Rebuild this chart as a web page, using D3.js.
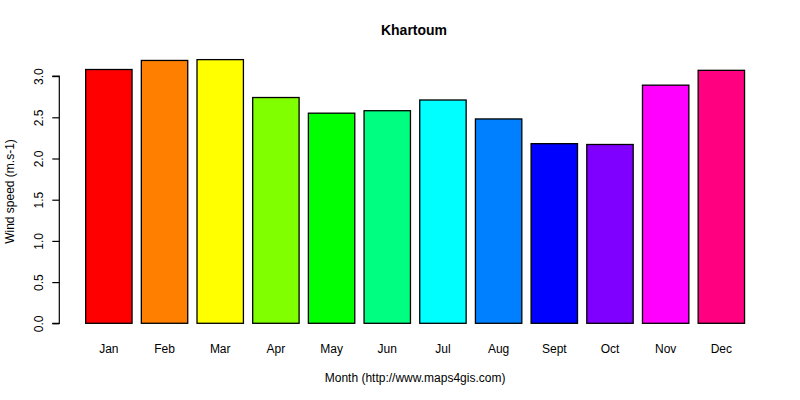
<!DOCTYPE html>
<html>
<head>
<meta charset="utf-8">
<script src="https://cdn.jsdelivr.net/npm/d3@7"></script>
<style>
  body { margin: 0; background: #fff; }
  text { font-family: "Liberation Sans", Arial, sans-serif; fill: #000; }
</style>
</head>
<body>
<div id="chart-container"></div>
<script>
// data
const months = ["Jan", "Feb", "Mar", "Apr", "May", "Jun", "Jul", "Aug", "Sept", "Oct", "Nov", "Dec"];
const windSpeed = [3.08, 3.19, 3.20, 2.74, 2.55, 2.58, 2.71, 2.48, 2.18, 2.17, 2.89, 3.07];
const barColors = ["#FF0000", "#FF8000", "#FFFF00", "#80FF00", "#00FF00", "#00FF80",
                   "#00FFFF", "#0080FF", "#0000FF", "#8000FF", "#FF00FF", "#FF0080"];
const yTicks = [0, 0.5, 1, 1.5, 2, 2.5, 3];

const width = 800;
const height = 400;
const plotLeft = 59.3;
const plotRight = 770.9;

const x = d3.scaleBand()
    .domain(months)
    .range([plotLeft, plotRight])
    .paddingInner(1 / 6)
    .paddingOuter(0.4733);

const y = d3.scaleLinear()
    .domain([0, 3])
    .range([323.3, 76.1]);

const svg = d3.create("svg")
    .attr("width", width)
    .attr("height", height);

// bars
svg.append("g")
    .selectAll("rect")
    .data(windSpeed)
    .join("rect")
    .attr("x", (d, i) => x(months[i]))
    .attr("y", d => y(d))
    .attr("width", x.bandwidth())
    .attr("height", d => y(0) - y(d))
    .attr("fill", (d, i) => barColors[i])
    .attr("stroke", "#000")
    .attr("stroke-width", 1.3);

// y axis, R style
const yAxis = svg.append("g")
    .attr("transform", `translate(${plotLeft},0)`)
    .call(d3.axisLeft(y).tickValues(yTicks).tickSize(7).tickFormat(d3.format(".1f")));
yAxis.select(".domain").attr("d", `M-7,${y(0)}H0V${y(3)}H-7`).attr("stroke", "#000").attr("stroke-width", 1.2);
yAxis.selectAll(".tick line").attr("stroke", "#000").attr("stroke-width", 1.2);
yAxis.selectAll(".tick text")
    .attr("x", null).attr("dy", null)
    .attr("transform", "translate(-16.5,0) rotate(-90)")
    .attr("text-anchor", "middle")
    .attr("font-size", 12)
    .attr("font-family", "Liberation Sans, Arial, sans-serif");

// month labels
svg.append("g")
    .selectAll("text")
    .data(months)
    .join("text")
    .attr("x", d => x(d) + x.bandwidth() / 2)
    .attr("y", 353.3)
    .attr("text-anchor", "middle")
    .attr("font-size", 12)
    .text(d => d);

// titles
svg.append("text")
    .attr("x", 414)
    .attr("y", 35)
    .attr("text-anchor", "middle")
    .attr("font-size", 14)
    .attr("font-weight", "bold")
    .text("Khartoum");

svg.append("text")
    .attr("x", (plotLeft + plotRight) / 2)
    .attr("y", 382)
    .attr("text-anchor", "middle")
    .attr("font-size", 12)
    .text("Month (http://www.maps4gis.com)");

svg.append("text")
    .attr("transform", `translate(14,191.5) rotate(-90)`)
    .attr("text-anchor", "middle")
    .attr("font-size", 12)
    .text("Wind speed (m.s-1)");

document.getElementById("chart-container").appendChild(svg.node());
</script>
</body>
</html>
